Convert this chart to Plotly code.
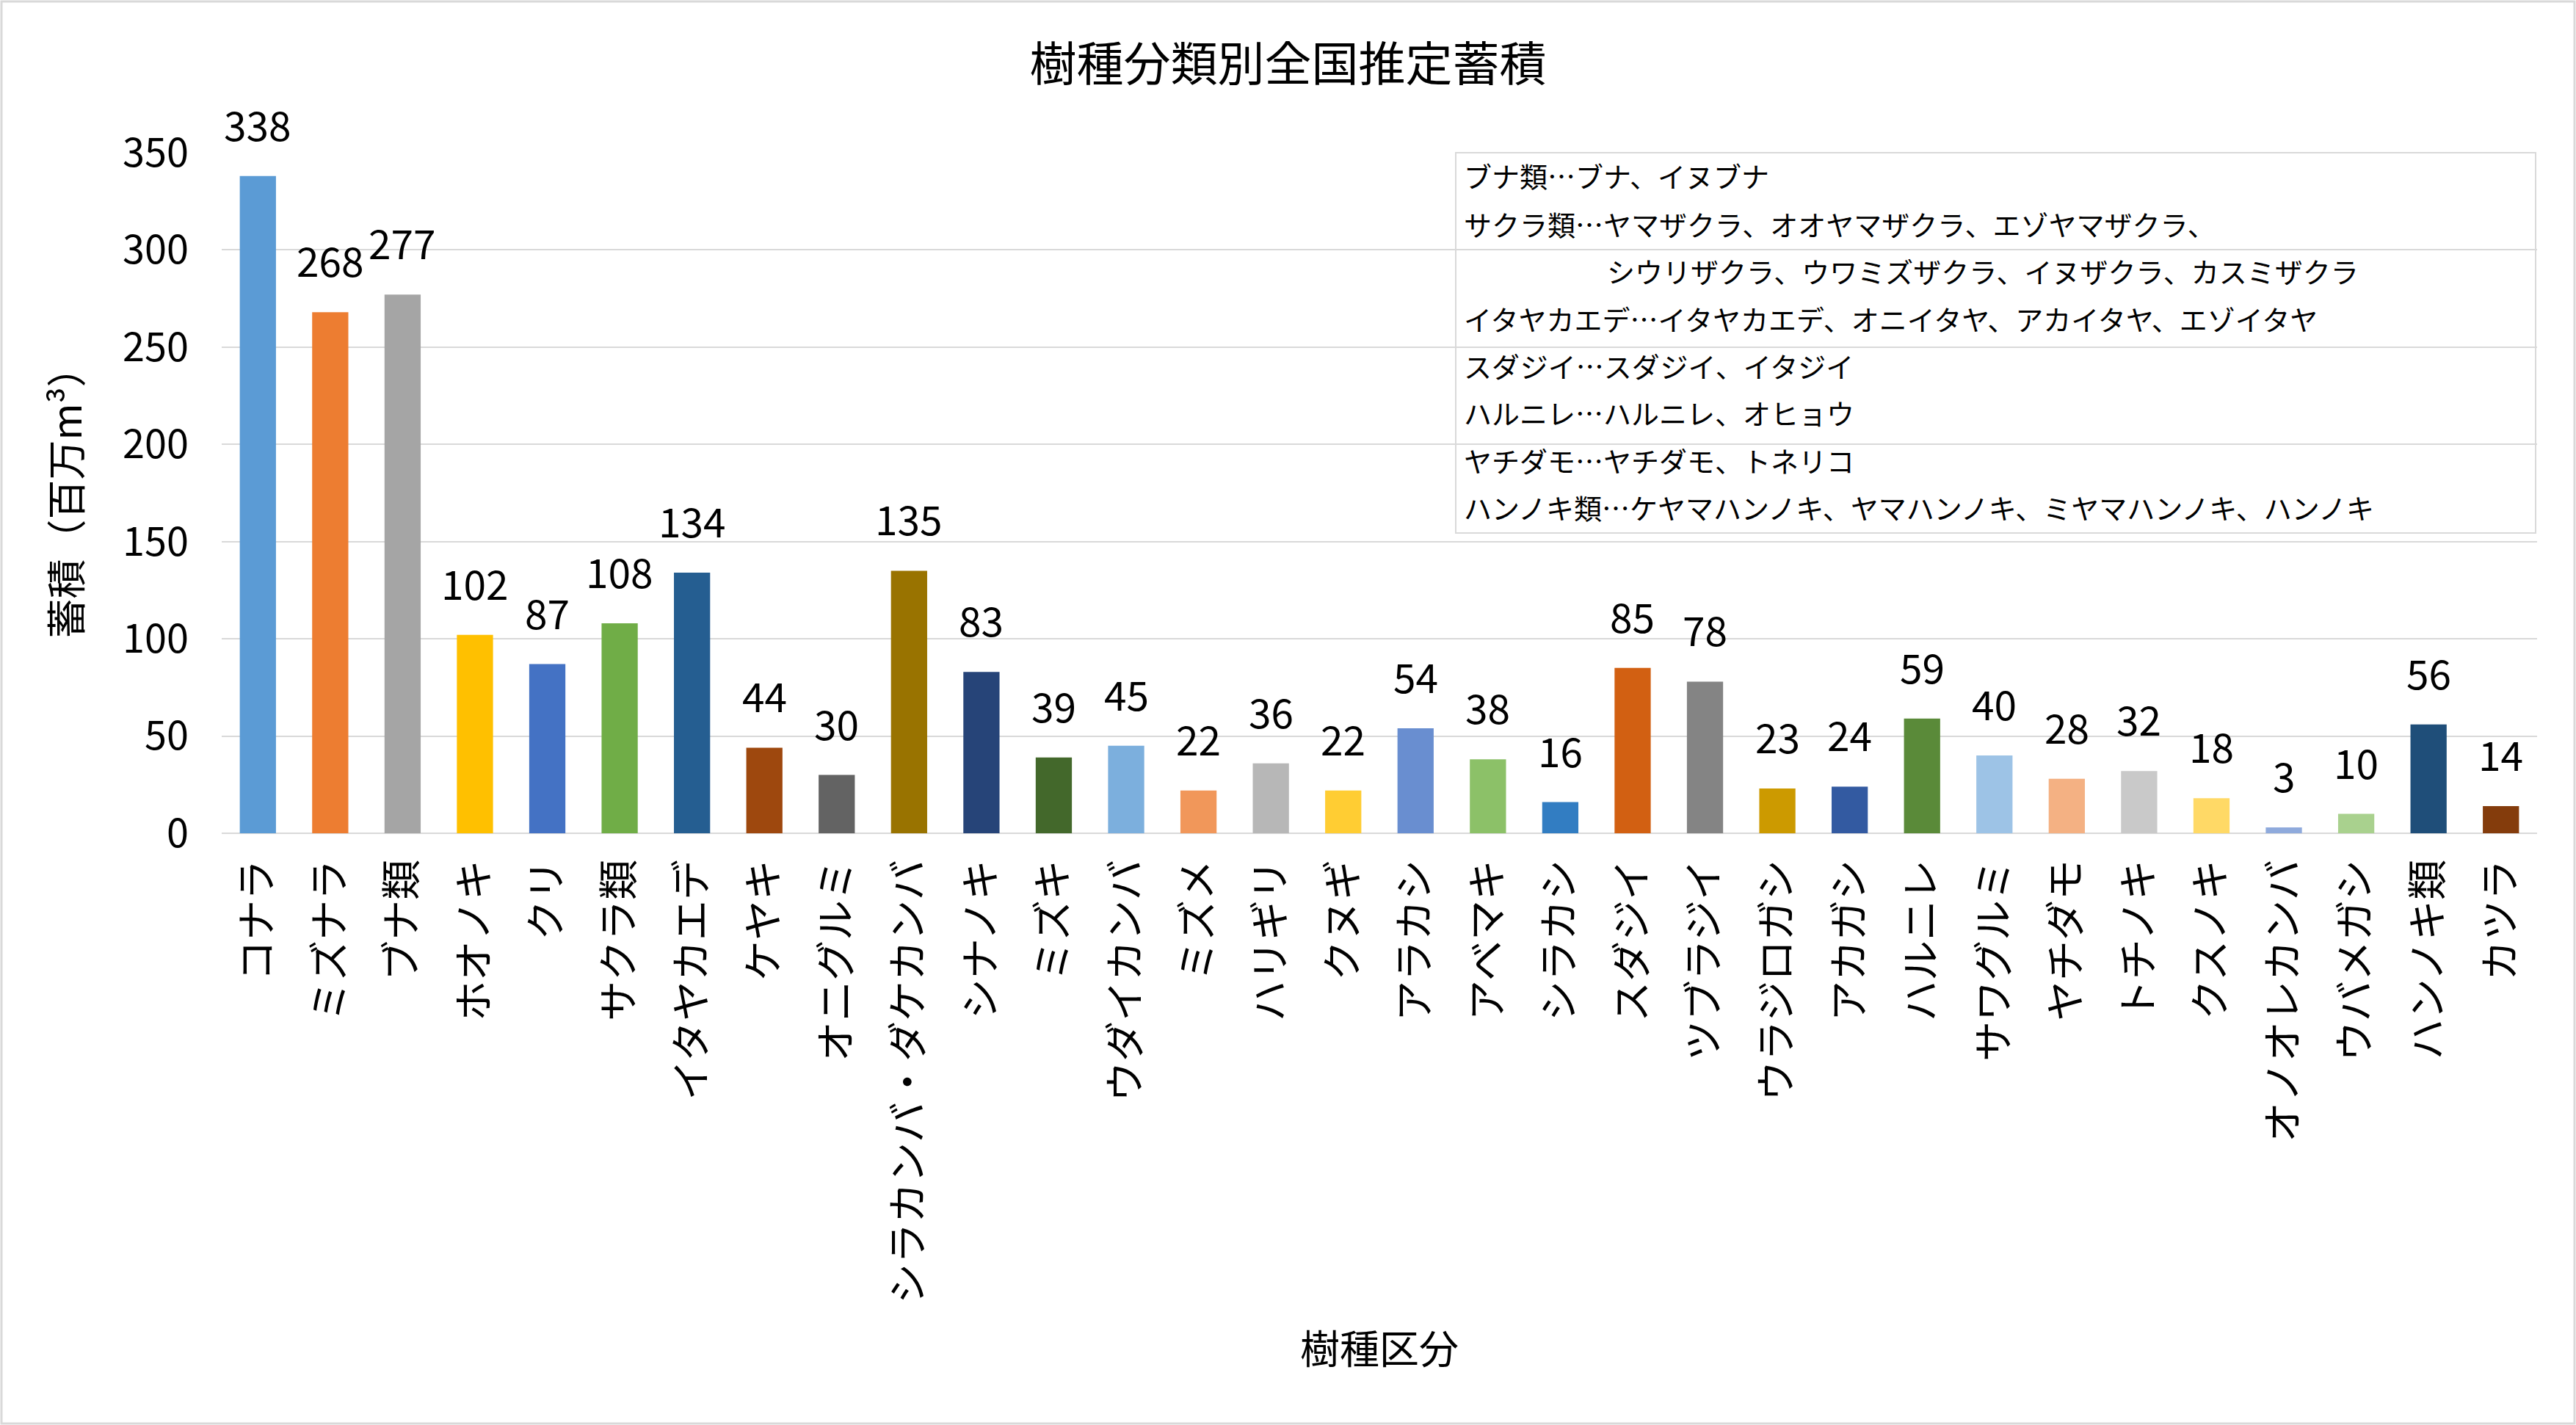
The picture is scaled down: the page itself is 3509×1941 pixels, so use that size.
import plotly.graph_objects as go

categories = ["コナラ", "ミズナラ", "ブナ類", "ホオノキ", "クリ", "サクラ類", "イタヤカエデ", "ケヤキ",
              "オニグルミ", "シラカンバ・ダケカンバ", "シナノキ", "ミズキ", "ウダイカンバ", "ミズメ",
              "ハリギリ", "クヌギ", "アラカシ", "アベマキ", "シラカシ", "スダジイ", "ツブラジイ",
              "ウラジロガシ", "アカガシ", "ハルニレ", "サワグルミ", "ヤチダモ", "トチノキ", "クスノキ",
              "オノオレカンバ", "ウバメガシ", "ハンノキ類", "カツラ"]
values = [338, 268, 277, 102, 87, 108, 134, 44, 30, 135, 83, 39, 45, 22, 36, 22, 54, 38, 16, 85,
          78, 23, 24, 59, 40, 28, 32, 18, 3, 10, 56, 14]
colors = ["#5B9BD5", "#ED7D31", "#A5A5A5", "#FFC000", "#4472C4", "#70AD47",
          "#255E91", "#9E480E", "#636363", "#997300", "#264478", "#43682B",
          "#7CAFDD", "#F1975A", "#B7B7B7", "#FFCD33", "#698ED0", "#8CC168",
          "#327DC2", "#D26012", "#848484", "#CC9A00", "#335AA1", "#5A8A39",
          "#9DC3E6", "#F4B183", "#C9C9C9", "#FFD966", "#8FAADC", "#A9D18E",
          "#1F4E79", "#843C0C"]
yticks = [0, 50, 100, 150, 200, 250, 300, 350]
note_lines = [
    "ブナ類…ブナ、イヌブナ",
    "サクラ類…ヤマザクラ、オオヤマザクラ、エゾヤマザクラ、",
    "シウリザクラ、ウワミズザクラ、イヌザクラ、カスミザクラ",
    "イタヤカエデ…イタヤカエデ、オニイタヤ、アカイタヤ、エゾイタヤ",
    "スダジイ…スダジイ、イタジイ",
    "ハルニレ…ハルニレ、オヒョウ",
    "ヤチダモ…ヤチダモ、トネリコ",
    "ハンノキ類…ケヤマハンノキ、ヤマハンノキ、ミヤマハンノキ、ハンノキ",
]
note_indent = [0, 0, 1, 0, 0, 0, 0, 0]

FONT = "Noto Sans CJK JP"
W, H = 3509, 1941
L, R, T, B = 302, 3456, 208, 1135  # plot area pixels

def px_x(x):
    return (x - L) / (R - L)

def px_y(y):
    return (B - y) / (B - T)

fig = go.Figure()
fig.add_trace(go.Bar(
    x=categories, y=values, marker=dict(color=colors, line=dict(width=0)),
    showlegend=False, hoverinfo="x+y",
))

annotations = []
for c, v in zip(categories, values):
    annotations.append(dict(x=c, y=v, xref="x", yref="y", text=str(v), showarrow=False,
                            yanchor="middle", yshift=72,
                            font=dict(family=FONT, size=55, color="#000000")))

# note box lines
y_lines = [239, 304, 368, 433, 497, 561, 626, 690]
for i, (line, ind) in enumerate(zip(note_lines, note_indent)):
    x0 = 1992 + (195 if ind else 0)
    annotations.append(dict(x=px_x(x0), y=px_y(y_lines[i]), xref="paper", yref="paper",
                            text=line, showarrow=False, xanchor="left", yanchor="middle",
                            font=dict(family=FONT, size=38, color="#000000")))

shapes = [
    dict(type="rect", xref="paper", yref="paper", x0=px_x(1983), x1=px_x(3454),
         y0=px_y(726), y1=px_y(208), line=dict(color="#D9D9D9", width=2),
         fillcolor="rgba(0,0,0,0)", layer="above"),
    dict(type="rect", xref="paper", yref="paper", x0=px_x(2), x1=px_x(3507),
         y0=px_y(1939), y1=px_y(2), line=dict(color="#D9D9D9", width=3),
         fillcolor="rgba(0,0,0,0)"),
]

fig.update_layout(
    width=W, height=H,
    margin=dict(l=L, r=W - R, t=T, b=H - B, pad=0),
    paper_bgcolor="white", plot_bgcolor="white",
    bargap=0.5,
    font=dict(family=FONT, color="#000000"),
    title=dict(text="樹種分類別全国推定蓄積", x=0.5, xref="container", xanchor="center",
               y=1 - 88 / H, yref="container", yanchor="middle",
               font=dict(family=FONT, size=64, color="#000000")),
    xaxis=dict(
        categoryorder="array", categoryarray=categories,
        tickangle=-90, tickfont=dict(family=FONT, size=55, color="#000000"),
        showgrid=False, showline=False, zeroline=False, ticks="",
        ticklabelstandoff=24,
        title=dict(text="樹種区分", font=dict(family=FONT, size=54, color="#000000"), standoff=45),
    ),
    yaxis=dict(
        range=[0, 350], tickvals=yticks, ticktext=[str(t) for t in yticks],
        tickfont=dict(family=FONT, size=54, color="#000000"),
        showgrid=True, gridcolor="#D9D9D9", gridwidth=2,
        zeroline=True, zerolinecolor="#D9D9D9", zerolinewidth=2,
        showline=False, ticks="", ticklabelstandoff=44,
        title=dict(text="蓄積（百万m³）", font=dict(family=FONT, size=54, color="#000000"), standoff=38),
    ),
    annotations=annotations,
    shapes=shapes,
)

fig.write_html("out.html")
